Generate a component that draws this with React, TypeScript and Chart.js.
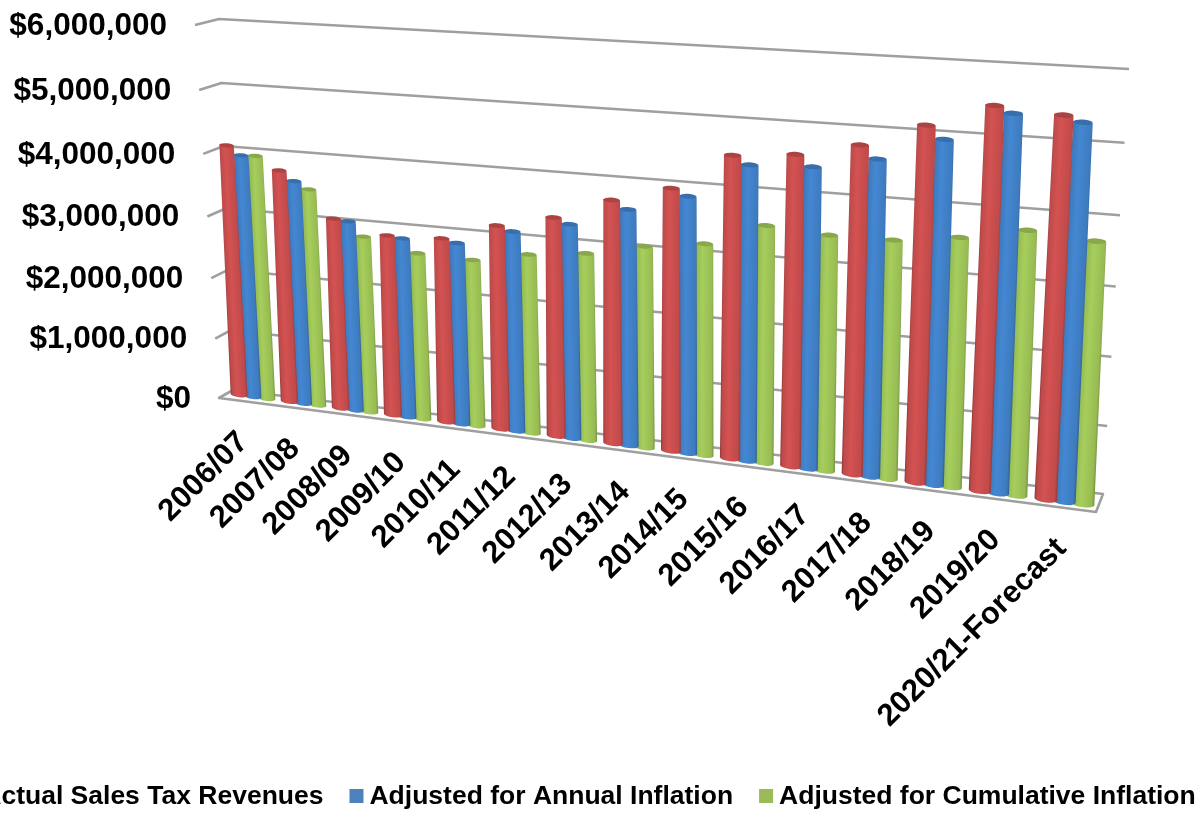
import React, { useEffect, useRef } from "react";
import { Chart, BarController, BarElement, CategoryScale, LinearScale, Tooltip } from "chart.js";

const categories = ["2006/07","2007/08","2008/09","2009/10","2010/11","2011/12","2012/13","2013/14","2014/15","2015/16","2016/17","2017/18","2018/19","2019/20","2020/21-Forecast"];
const actualRevenues = [4090000,3760000,3070000,2885000,2920000,3200000,3400000,3740000,3990000,4540000,4620000,4820000,5160000,5490000,5420000];
const annualAdjusted = [3950000,3610000,3050000,2860000,2870000,3130000,3320000,3620000,3890000,4420000,4460000,4640000,4980000,5400000,5340000];
const cumulativeAdjusted = [3960000,3500000,2830000,2650000,2630000,2800000,2900000,3090000,3210000,3560000,3500000,3510000,3630000,3810000,3740000];
const seriesNames = ["Actual Sales Tax Revenues","Adjusted for Annual Inflation","Adjusted for Cumulative Inflation"];
const legendColors = ["#C0504D","#4F81BD","#9BBB59"];
const barColors = ["#C44C4C","#3F7DC2","#9ABF55"];

const WIDTH = 1203;
const HEIGHT = 814;
const FONT = '"Liberation Sans", Arial, sans-serif';
const GRID = "#9f9f9f";

type Pt = [number, number];

// Perspective map from the unit square onto a quad: bottom-left, bottom-right, top-right, top-left.
function quadMap(p0: Pt, p1: Pt, p2: Pt, p3: Pt) {
  const dx1 = p1[0] - p2[0], dx2 = p3[0] - p2[0], sx = p0[0] - p1[0] + p2[0] - p3[0];
  const dy1 = p1[1] - p2[1], dy2 = p3[1] - p2[1], sy = p0[1] - p1[1] + p2[1] - p3[1];
  const den = dx1 * dy2 - dx2 * dy1;
  const g = (sx * dy2 - dx2 * sy) / den;
  const h = (dx1 * sy - sx * dy1) / den;
  const a = p1[0] - p0[0] + g * p1[0], b = p3[0] - p0[0] + h * p3[0], c = p0[0];
  const d = p1[1] - p0[1] + g * p1[1], e = p3[1] - p0[1] + h * p3[1], f = p0[1];
  return (u: number, v: number): Pt => {
    const w = g * u + h * v + 1;
    return [(a * u + b * v + c) / w, (d * u + e * v + f) / w];
  };
}

// The three planes of the 3-D box: the row of bars, the rear wall, and the front edge.
const barPlane = quadMap([228, 393.5], [1098, 506], [1121, 75], [209, 23]);
const rearWall = quadMap([233, 390], [1103, 494], [1129, 69], [219, 19]);
const frontPlane = quadMap([219, 398], [1096, 512], [1125, 85], [195, 25]);

const toU = (x: number) => x / WIDTH;
const toV = (y: number) => 1 - y / HEIGHT;

function shade(hex: string, k: number) {
  const n = parseInt(hex.slice(1), 16);
  const ch = (s: number) => Math.max(0, Math.min(255, Math.round(((n >> s) & 255) * k)));
  return `rgb(${ch(16)},${ch(8)},${ch(0)})`;
}

// A bar element painted as a cylinder standing in the projected plane.
// The foot sits nearer the viewer than the cap, so it is drawn wider.
class CylinderBar extends BarElement {
  static id = "cylinderBar";
  draw(ctx: CanvasRenderingContext2D) {
    const { x, y, base, width } = (this as any).getProps(["x", "y", "base", "width"]);
    const color: string = (this as any).options.backgroundColor;
    const bl = barPlane(toU(x - width / 2), toV(base));
    const br = barPlane(toU(x + width / 2), toV(base));
    const cb = barPlane(toU(x), toV(base));
    const ct = barPlane(toU(x), toV(y));
    const half = Math.hypot(br[0] - bl[0], br[1] - bl[1]) / 2;
    const rB = half * 1.2;
    const rT = half * 1.03;
    const tilt = Math.atan2(br[1] - bl[1], br[0] - bl[0]);
    const cos = Math.cos(tilt), sin = Math.sin(tilt);
    const lean = (ct[0] - cb[0]) / (ct[1] - cb[1]);

    ctx.save();
    ctx.beginPath();
    ctx.moveTo(ct[0] - rT * cos, ct[1] - rT * sin);
    ctx.lineTo(cb[0] - rB * cos, cb[1] - rB * sin);
    ctx.ellipse(cb[0], cb[1], rB, rB * 0.28, tilt, Math.PI, 0, true);
    ctx.lineTo(ct[0] + rT * cos, ct[1] + rT * sin);
    ctx.closePath();
    ctx.clip();
    // Sheared so that the shading runs along the leaning axis of the cylinder.
    ctx.translate(cb[0], cb[1]);
    ctx.transform(1, 0, lean, 1, 0, 0);
    const grad = ctx.createLinearGradient(-rB, 0, rB, 0);
    grad.addColorStop(0, shade(color, 0.74));
    grad.addColorStop(0.1, shade(color, 0.97));
    grad.addColorStop(0.4, shade(color, 1.08));
    grad.addColorStop(0.88, shade(color, 0.98));
    grad.addColorStop(1, shade(color, 0.76));
    ctx.fillStyle = grad;
    ctx.fillRect(-rB * 2, ct[1] - cb[1] - 10, rB * 4, cb[1] - ct[1] + 30);
    ctx.restore();

    ctx.save();
    ctx.beginPath();
    ctx.ellipse(ct[0], ct[1], rT, rT * 0.28, tilt * 0.5, 0, Math.PI * 2);
    ctx.fillStyle = shade(color, 0.88);
    ctx.fill();
    ctx.restore();
  }
}

class CylinderController extends BarController {
  static id = "cylinder";
  static defaults = { dataElementType: "cylinderBar" };
}

Chart.register(CylinderController, CylinderBar, CategoryScale, LinearScale, Tooltip);

const money = (v: number) => "$" + v.toLocaleString("en-US");

// Floor, rear-wall grid and the short strokes of the side wall.
const boxPlugin = {
  id: "box",
  beforeDatasetsDraw(chart: any) {
    const { ctx, scales } = chart;
    ctx.save();
    ctx.strokeStyle = GRID;
    ctx.lineWidth = 2.6;
    ctx.lineJoin = "round";
    ctx.beginPath();
    ctx.moveTo(...frontPlane(0, 0));
    ctx.lineTo(...frontPlane(1, 0));
    ctx.lineTo(...rearWall(1, 0));
    ctx.lineTo(...rearWall(0, 0));
    ctx.closePath();
    ctx.stroke();
    for (const tick of scales.y.ticks) {
      if (tick.value === 0) continue;
      const v = toV(scales.y.getPixelForValue(tick.value));
      ctx.beginPath();
      ctx.moveTo(...frontPlane(0, v));
      ctx.lineTo(...rearWall(0, v));
      ctx.lineTo(...rearWall(1, v));
      ctx.stroke();
    }
    ctx.restore();
  },
};

// Tick labels that follow the projected edges, and the legend row beneath.
const labelPlugin = {
  id: "labels",
  afterDraw(chart: any) {
    const { ctx, scales } = chart;
    ctx.save();
    ctx.fillStyle = "#000";
    ctx.font = `bold 31.5px ${FONT}`;
    ctx.textAlign = "right";
    ctx.textBaseline = "middle";
    for (const tick of scales.y.ticks) {
      const [px, py] = frontPlane(0, toV(scales.y.getPixelForValue(tick.value)));
      ctx.fillText(money(tick.value), px - 28, py + 1);
    }
    ctx.font = `bold 31px ${FONT}`;
    categories.forEach((name, i) => {
      const [px, py] = frontPlane(toU(scales.x.getPixelForValue(i)), toV(scales.y.getPixelForValue(0)));
      ctx.save();
      ctx.translate(px - 1, py + 36);
      ctx.rotate(-Math.PI / 4);
      ctx.fillText(name, 0, 0);
      ctx.restore();
    });
    ctx.font = `bold 26.5px ${FONT}`;
    ctx.textAlign = "left";
    const box = 14, gap = 6, sep = 26, midY = 796;
    const widths = seriesNames.map((s) => ctx.measureText(s).width);
    const total = widths.reduce((a, b) => a + b + box + gap, 0) + sep * (seriesNames.length - 1);
    let x = 579 - total / 2;
    seriesNames.forEach((s, i) => {
      ctx.fillStyle = legendColors[i];
      ctx.fillRect(x, midY - box / 2, box, box);
      ctx.fillStyle = "#000";
      ctx.fillText(s, x + box + gap, midY + 1);
      x += box + gap + widths[i] + sep;
    });
    ctx.restore();
  },
};

export default function App() {
  const ref = useRef<HTMLCanvasElement>(null);
  useEffect(() => {
    const chart = new Chart(ref.current!, {
      type: "cylinder" as any,
      data: {
        labels: categories,
        datasets: [actualRevenues, annualAdjusted, cumulativeAdjusted].map((data, i) => ({
          label: seriesNames[i],
          data,
          backgroundColor: barColors[i],
          categoryPercentage: 0.83,
          barPercentage: 1.02,
        })),
      },
      options: {
        responsive: false,
        animation: false,
        layout: { padding: 0 },
        plugins: { legend: { display: false }, tooltip: { enabled: false } },
        scales: {
          x: { type: "category", display: false, offset: true },
          y: { type: "linear", display: false, min: 0, max: 6000000, ticks: { stepSize: 1000000 } },
        },
      } as any,
      plugins: [boxPlugin, labelPlugin],
    });
    return () => chart.destroy();
  }, []);
  return (
    <div style={{ position: "absolute", left: 0, top: 0, width: WIDTH, height: HEIGHT, overflow: "hidden", background: "#fff" }}>
      <canvas ref={ref} width={WIDTH} height={HEIGHT} style={{ display: "block" }} />
    </div>
  );
}
